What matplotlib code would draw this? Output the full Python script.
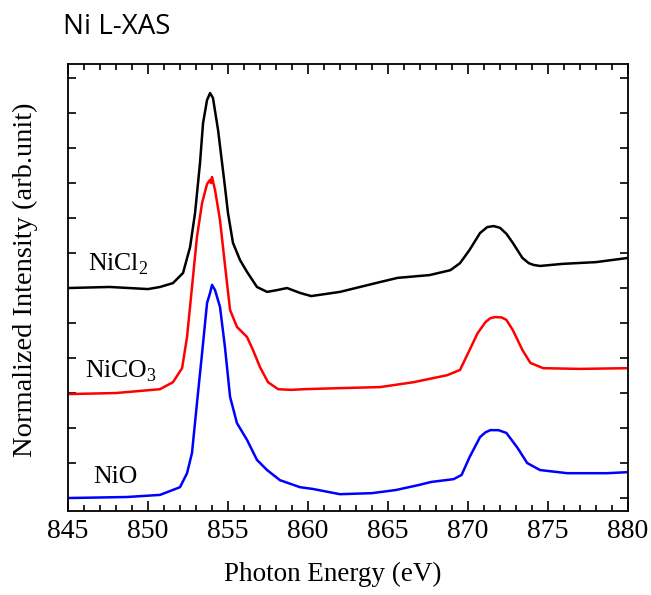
import numpy as np
import matplotlib
matplotlib.use('Agg')
import matplotlib.pyplot as plt
from matplotlib.ticker import MultipleLocator

plt.rcParams['mathtext.fontset'] = 'custom'
plt.rcParams['mathtext.rm'] = 'Liberation Serif'

# energies (eV) and normalized intensity (offset, arb. units)
e_nicl2 = [845, 847.6, 850, 850.75, 851.56, 852.19, 852.63, 852.94, 853.25, 853.44, 853.69, 853.88, 854.06,
           854.38, 854.63, 854.81, 855.0, 855.31, 855.75, 856.19, 856.81, 857.44, 858.06, 858.69, 859.5,
           860.2, 862, 864.5, 865.6, 867.6, 868.9, 869.5, 870.1, 870.75, 871.2, 871.6, 872.0, 872.4,
           872.8, 873.4, 873.8, 874.1, 874.5, 875.9, 878, 880]
i_nicl2 = [6.00, 6.03, 5.97, 6.03, 6.14, 6.43, 7.17, 8.14, 9.57, 10.71, 11.37, 11.57, 11.43,
           10.51, 9.57, 8.89, 8.14, 7.29, 6.80, 6.46, 6.03, 5.89, 5.94, 6.00, 5.86,
           5.77, 5.89, 6.17, 6.29, 6.37, 6.51, 6.71, 7.09, 7.57, 7.74, 7.77, 7.72, 7.55,
           7.29, 6.86, 6.71, 6.66, 6.63, 6.69, 6.74, 6.86]

e_nico3 = [845, 848, 850.75, 851.56, 852.13, 852.44, 852.75, 853.06, 853.38, 853.69, 853.88, 853.94, 854.0,
           854.19, 854.5, 854.81, 855.13, 855.56, 856.19, 856.56, 857.0, 857.5, 858.13, 858.94, 859.75,
           862, 864.5, 866.6, 868.7, 869.5, 870.1, 870.6, 871.1, 871.4, 871.7, 872.1, 872.4, 872.8,
           873.4, 873.9, 874.7, 877, 880]
i_nico3 = [2.97, 3.00, 3.11, 3.31, 3.71, 4.60, 6.03, 7.46, 8.43, 8.97, 9.09, 9.00, 9.17,
           8.80, 7.94, 6.66, 5.37, 4.89, 4.60, 4.23, 3.74, 3.31, 3.11, 3.09, 3.11,
           3.14, 3.17, 3.31, 3.51, 3.66, 4.23, 4.71, 5.03, 5.14, 5.17, 5.16, 5.09, 4.80,
           4.23, 3.86, 3.71, 3.69, 3.71]

e_nio = [845, 848.7, 850.75, 852.0, 852.44, 852.75, 853.06, 853.38, 853.69, 853.88, 854.0, 854.19, 854.5,
         854.81, 855.13, 855.56, 856.19, 856.81, 857.44, 858.25, 859.5, 860.3, 862, 864, 865.5, 866.9,
         867.7, 869.1, 869.6, 870.1, 870.75, 871.1, 871.4, 871.9, 872.4, 873.1, 873.7, 874.5, 876.2,
         878.7, 880]
i_nio = [0.00, 0.03, 0.09, 0.31, 0.71, 1.29, 2.71, 4.14, 5.57, 5.86, 6.09, 5.94, 5.46,
         4.31, 2.89, 2.14, 1.66, 1.09, 0.80, 0.51, 0.31, 0.26, 0.11, 0.14, 0.23, 0.37,
         0.46, 0.54, 0.66, 1.17, 1.74, 1.88, 1.94, 1.94, 1.86, 1.43, 1.00, 0.80, 0.71,
         0.71, 0.74]

serif = ['Liberation Serif', 'DejaVu Serif']

fig = plt.figure(figsize=(6.51, 5.95), dpi=100)
ax = fig.add_axes([68/651, 1-511/595, 560/651, 447/595])

ax.plot(e_nicl2, i_nicl2, color='black', lw=1.8, solid_joinstyle='round')
ax.plot(e_nico3, i_nico3, color='red', lw=1.8, solid_joinstyle='round')
ax.plot(e_nio, i_nio, color='blue', lw=1.8, solid_joinstyle='round')

ax.set_xlim(845, 880)
ax.set_ylim(-0.37, 12.4)
ax.xaxis.set_major_locator(MultipleLocator(5))
ax.xaxis.set_minor_locator(MultipleLocator(1))
ax.yaxis.set_major_locator(MultipleLocator(1))
ax.set_yticklabels([])
ax.tick_params(which='both', direction='in', top=True, right=True, width=1.2)
ax.tick_params(which='major', axis='x', length=7)
ax.tick_params(which='minor', axis='x', length=4)
ax.tick_params(axis='y', length=6)
ax.tick_params(axis='x', labelsize=20, pad=6)
for lb in ax.get_xticklabels():
    lb.set_family(serif)
for s in ax.spines.values():
    s.set_linewidth(1.3)

ax.set_xlabel('Photon Energy (eV)', fontsize=19.5, family=serif)
ax.xaxis.set_label_coords(0.473, -0.113)
ax.set_ylabel('Normalized Intensity (arb.unit)', fontsize=20.5, family=serif)
ax.yaxis.set_label_coords(-0.053, 0.517)

ax.text(846.25, 6.5, r'NiCl$_2$', fontsize=18.5, family=serif)
ax.text(846.05, 3.45, r'NiCO$_3$', fontsize=18.5, family=serif)
ax.text(846.6, 0.43, 'NiO', fontsize=18.5, family=serif)

fig.text(63/651, 1-27/595, 'Ni L-XAS', fontsize=20, family='Open Sans', va='center', ha='left')

fig.savefig('out.png', dpi=100)
